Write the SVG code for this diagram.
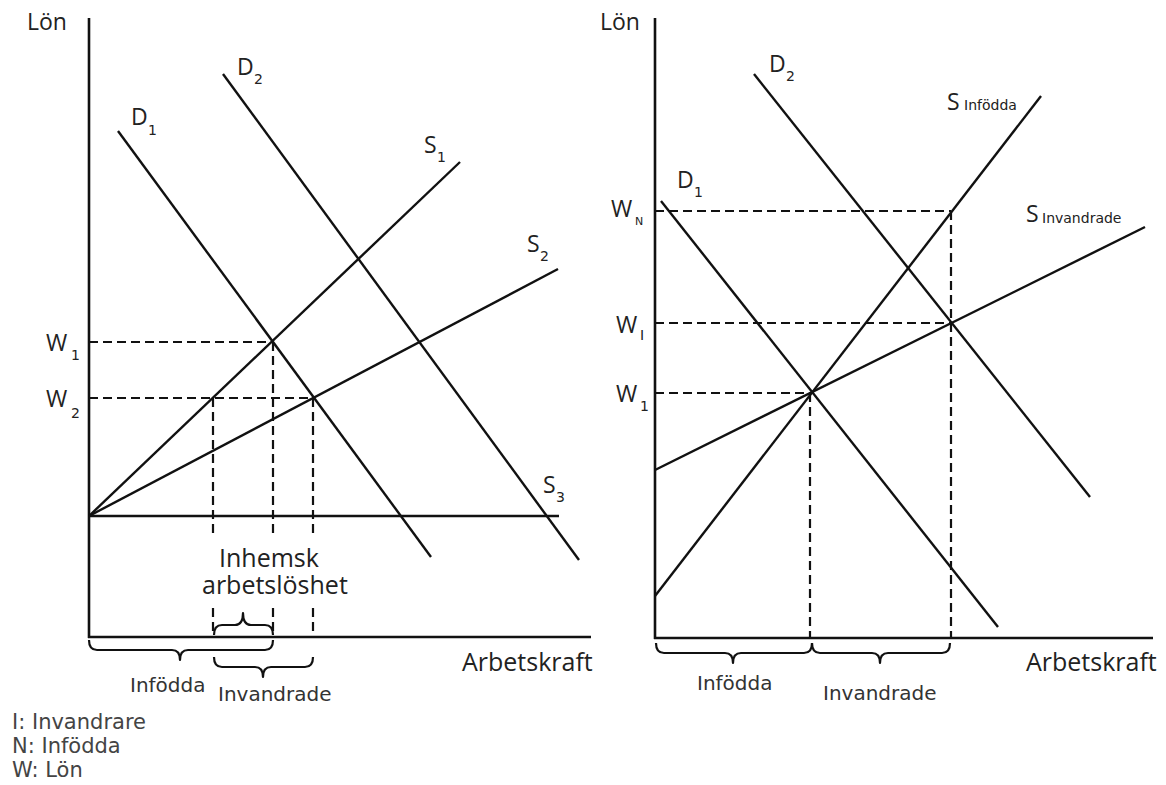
<svg xmlns="http://www.w3.org/2000/svg" width="1166" height="785" viewBox="0 0 1166 785">
<style>
.ln{stroke:#111;stroke-width:2.4;fill:none;stroke-linecap:butt}
.ax{stroke:#111;stroke-width:2.6;fill:none}
.ds{stroke:#111;stroke-width:2.2;fill:none;stroke-dasharray:9 5}
.br{stroke:#111;stroke-width:2.2;fill:none;stroke-linejoin:round}
.t{font-family:"Open Sans","DejaVu Sans",sans-serif;font-size:23px;fill:#222}
.b{font-family:"Open Sans","DejaVu Sans",sans-serif;font-size:25px;fill:#222}
.s{font-family:"DejaVu Sans","Open Sans",sans-serif;font-size:14px;fill:#222}
.v{font-family:"DejaVu Sans",sans-serif;font-size:20px;fill:#333}
.lg{font-family:"DejaVu Sans",sans-serif;font-size:21px;fill:#444}
</style>
<rect width="1166" height="785" fill="#fff"/>

<g id="left-chart">
  <g id="left-axes">
    <line class="ax" x1="89" y1="18" x2="89" y2="638"/>
    <line class="ax" x1="88" y1="637" x2="591" y2="637"/>
    <text class="t" x="27" y="30">Lön</text>
    <text class="b" x="462" y="671">Arbetskraft</text>
  </g>
  <g id="left-guides">
    <line class="ds" x1="89" y1="342" x2="273" y2="342"/>
    <line class="ds" x1="89" y1="398" x2="313" y2="398"/>
    <line class="ds" x1="213" y1="398" x2="213" y2="637"/>
    <line class="ds" x1="273" y1="342" x2="273" y2="637"/>
    <line class="ds" x1="313" y1="398" x2="313" y2="637"/>
  </g>
  <g id="left-curves">
    <line class="ln" x1="89" y1="516" x2="460" y2="162"/>
    <line class="ln" x1="89" y1="516" x2="558" y2="269"/>
    <line class="ln" x1="89" y1="516" x2="559" y2="516"/>
    <line class="ln" x1="118" y1="131" x2="431" y2="557"/>
    <line class="ln" x1="223" y1="74" x2="579" y2="560"/>
  </g>
  <g id="left-labels">
    <text class="t" x="131" y="125">D</text><text class="s" x="148" y="135">1</text>
    <text class="t" x="237" y="75">D</text><text class="s" x="254" y="84">2</text>
    <text class="t" x="424" y="153">S</text><text class="s" x="437" y="162">1</text>
    <text class="t" x="527" y="252">S</text><text class="s" x="540" y="261">2</text>
    <text class="t" x="543" y="493">S</text><text class="s" x="556" y="502">3</text>
    <text class="t" x="46" y="351">W</text><text class="s" x="71" y="360">1</text>
    <text class="t" x="46" y="407">W</text><text class="s" x="71" y="418">2</text>
    <rect x="198" y="536" width="154" height="68" fill="#fff"/>
    <text class="b" x="219" y="567">Inhemsk</text>
    <text class="b" x="202" y="594">arbetslöshet</text>
  </g>
  <g id="left-braces">
    <path class="br" d="M89,640 Q89,650 97,650 L172,650 Q180,650 180,660 Q180,650 188,650 L265,650 Q273,650 273,640"/>
    <path class="br" d="M214,657 Q214,667 222,667 L255,667 Q263,667 263,677 Q263,667 271,667 L305,667 Q313,667 313,657"/>
    <path class="br" d="M214,635 Q214,625 222,625 L235,625 Q243,625 243,613 Q243,625 251,625 L265,625 Q273,625 273,635"/>
    <text class="v" x="130" y="692">Infödda</text>
    <text class="v" x="218" y="701">Invandrade</text>
  </g>
</g>

<g id="right-chart">
  <g id="right-axes">
    <line class="ax" x1="655" y1="18" x2="655" y2="639"/>
    <line class="ax" x1="654" y1="638" x2="1153" y2="638"/>
    <text class="t" x="600" y="30">Lön</text>
    <text class="b" x="1026" y="671">Arbetskraft</text>
  </g>
  <g id="right-guides">
    <line class="ds" x1="655" y1="211" x2="951" y2="211"/>
    <line class="ds" x1="655" y1="323" x2="950" y2="323"/>
    <line class="ds" x1="655" y1="393" x2="810" y2="393"/>
    <line class="ds" x1="951" y1="211" x2="951" y2="638"/>
    <line class="ds" x1="810" y1="393" x2="810" y2="638"/>
  </g>
  <g id="right-curves">
    <line class="ln" x1="655" y1="596" x2="1041" y2="96"/>
    <line class="ln" x1="655" y1="470" x2="1145" y2="227"/>
    <line class="ln" x1="661" y1="201" x2="998" y2="627"/>
    <line class="ln" x1="754" y1="74" x2="1090" y2="497"/>
  </g>
  <g id="right-labels">
    <text class="t" x="769" y="72">D</text><text class="s" x="786" y="81">2</text>
    <text class="t" x="677" y="188">D</text><text class="s" x="694" y="197">1</text>
    <text class="t" x="611" y="217">W</text><text class="s" x="635" y="225" style="font-size:11px">N</text>
    <text class="t" x="616" y="333">W</text><text class="s" x="640" y="340">I</text>
    <text class="t" x="616" y="402">W</text><text class="s" x="640" y="411">1</text>
    <text class="t" x="947" y="110">S</text><text class="s" x="964" y="110">Infödda</text>
    <text class="t" x="1026" y="222">S</text><text class="s" x="1042" y="223">Invandrade</text>
  </g>
  <g id="right-braces">
    <path class="br" d="M656,643 Q656,653 664,653 L725,653 Q733,653 733,663 Q733,653 741,653 L804,653 Q812,653 812,643"/>
    <path class="br" d="M812,643 Q812,653 820,653 L872,653 Q880,653 880,663 Q880,653 888,653 L942,653 Q950,653 950,643"/>
    <text class="v" x="697" y="690">Infödda</text>
    <text class="v" x="823" y="700">Invandrade</text>
  </g>
</g>

<g id="legend">
  <text class="lg" x="12" y="729">I: Invandrare</text>
  <text class="lg" x="12" y="753">N: Infödda</text>
  <text class="lg" x="12" y="777">W: Lön</text>
</g>
</svg>
